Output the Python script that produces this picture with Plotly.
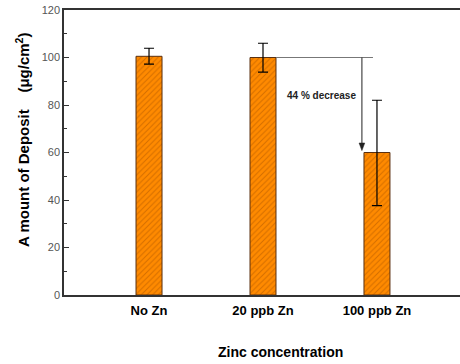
import plotly.graph_objects as go

categories = ["No Zn", "20 ppb Zn", "100 ppb Zn"]
deposit = [100.5, 100.0, 60.0]
err_plus = [3.4, 6.0, 22.0]
err_minus = [3.3, 6.2, 22.4]
y_ticks = [0, 20, 40, 60, 80, 100, 120]

xpos = list(range(len(categories)))
FONT = "Liberation Sans, Arial, sans-serif"

# figure is a little wider than the window so the plot frame runs off the right edge, as in the reference
W, H = 480, 364
L, R, T, B = 64, 0, 10, 69


def px_x(p):
    return (p - L) / (W - L - R)


def px_y(p):
    return 1 - (p - T) / (H - T - B)


fig = go.Figure()
fig.add_trace(go.Bar(
    x=xpos, y=deposit, width=0.228,
    marker=dict(color="#FF8A00",
                line=dict(color="#5a3010", width=1),
                pattern=dict(shape="/", fgcolor="#A85000", bgcolor="#FF8A00", size=4, solidity=0.25)),
    error_y=dict(type="data", array=err_plus, arrayminus=err_minus, symmetric=False,
                 color="black", thickness=1.2, width=5),
    showlegend=False,
))

# horizontal reference line from top of 20 ppb bar
fig.add_shape(type="line", xref="x", yref="y", x0=1.114, x1=1.965, y0=deposit[1], y1=deposit[1],
              line=dict(color="#777777", width=1.2))
# downward arrow shaft
ax_x = 1.868
fig.add_shape(type="line", xref="x", yref="y", x0=ax_x, x1=ax_x, y0=deposit[1], y1=deposit[2] + 3,
              line=dict(color="#222222", width=1))
# arrowhead (triangle)
fig.add_shape(type="path", xref="x", yref="y",
              path=f"M {ax_x - 0.025} {deposit[2] + 4} L {ax_x + 0.025} {deposit[2] + 4} L {ax_x} {deposit[2] + 0.8} Z",
              fillcolor="#222222", line=dict(color="#222222", width=0.5))
fig.add_annotation(x=1.513, y=84, xref="x", yref="y", text="44 % decrease", showarrow=False,
                   font=dict(family=FONT, size=10, color="#222222", weight="bold"))

# axis titles
fig.add_annotation(x=px_x(22), y=px_y(140), xref="paper", yref="paper",
                   xanchor="center", yanchor="middle",
                   text="A mount of Deposit    (μg/cm<sup>2</sup>)",
                   showarrow=False, textangle=-90,
                   font=dict(family=FONT, size=15, color="black", weight="bold"))
fig.add_annotation(x=px_x(280), y=px_y(352), xref="paper", yref="paper", text="Zinc concentration",
                   xanchor="center", yanchor="middle",
                   showarrow=False, font=dict(family=FONT, size=14, color="black", weight="bold"))

fig.update_layout(
    width=W, height=H, margin=dict(l=L, r=R, t=T, b=B, autoexpand=False),
    plot_bgcolor="white", paper_bgcolor="white",
    font=dict(family=FONT),
    xaxis=dict(range=[-0.746, 2.904], tickvals=xpos, ticktext=categories, automargin=False,
               showline=True, linecolor="#333333", linewidth=1.5, mirror=True,
               showgrid=False, zeroline=False, ticks="", ticklabelstandoff=3,
               tickfont=dict(family=FONT, size=13, color="black", weight="bold")),
    yaxis=dict(range=[0, 120], tickvals=y_ticks, showline=True, linecolor="#333333", linewidth=1.5,
               automargin=False,
               showgrid=False, zeroline=False, ticks="inside", ticklen=5, tickcolor="#333333",
               minor=dict(dtick=10, ticks="inside", ticklen=3, tickcolor="#333333"),
               tickfont=dict(family=FONT, size=11, color="#555555")),
)

fig.write_html("out.html", config={"displayModeBar": False},
               post_script="document.body.style.margin='0';document.body.style.overflow='hidden';")
